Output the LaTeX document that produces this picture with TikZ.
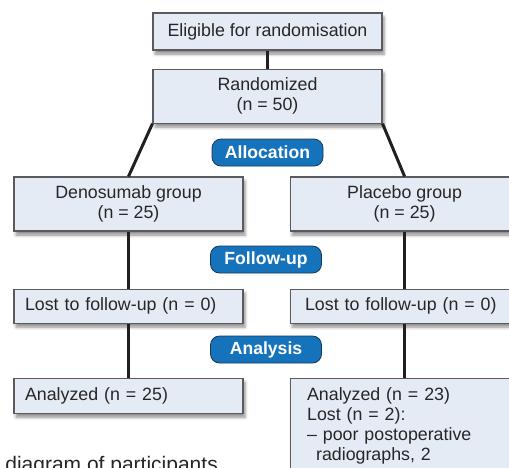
\documentclass[tikz,border=0pt]{standalone}
\usepackage{fontspec}
\setmainfont{Liberation Sans}
\usepackage{tikz}
\usetikzlibrary{positioning,shadows.blur}

\definecolor{boxfill}{RGB}{229,235,245}
\definecolor{boxline}{RGB}{90,90,95}
\definecolor{pillblue}{RGB}{21,115,187}
\definecolor{pillline}{RGB}{25,55,90}
\definecolor{linkline}{RGB}{35,31,32}

\begin{document}
\begin{tikzpicture}[x=1pt, y=1pt,
    main/.style = {draw=boxline, fill=boxfill, line width=1.1pt, minimum width=229pt, minimum height=54pt, align=center, text=black!85,
        font=\fontsize{17.8}{20}\selectfont, blur shadow={shadow xshift=2pt, shadow yshift=-4pt, shadow blur radius=3pt, shadow opacity=45}},
    side/.style = {main, align=left, inner xsep=#1, text width=229pt-2*#1, minimum height=34pt},
    side/.default = 11pt,
    pill/.style = {draw=pillline, fill=pillblue, line width=0.8pt, rounded corners=9pt, minimum width=111pt, minimum height=27pt,
        text=white, font=\fontsize{17.6}{20}\selectfont\bfseries},
    link/.style = {draw=linkline, line width=3pt}]
    \useasboundingbox (0,0) rectangle (509,-467);

    \node[main, minimum height=37pt] (1) at (267.5,-31.5) {Eligible for randomisation};
    \node[main] (2) [below=18pt of 1] {Randomized\\(n = 50)};
    \node[pill] (3) [below=15pt of 2] {Allocation};

    \node[main] (4) at (128.5,-204) {Denosumab group\\(n = 25)};
    \node[main] (5) [right=46pt of 4] {Placebo group\\(n = 25)};
    \node[pill] (6) at (266,-259.5) {Follow-up};

    \node[side] (7) [below=57pt of 4] {Lost to follow-up (n = 0)};
    \node[side=15pt] (8) [below=57pt of 5] {Lost to follow-up (n = 0)};
    \node[pill] (9) at (266,-349.5) {Analysis};

    \node[side, minimum height=35pt] (10) [below=54pt of 7] {Analyzed (n = 25)};
    \node[side=17pt, inner ysep=9pt] (11) [below=54pt of 8] {Analyzed (n = 23)\\Lost (n = 2):\\– poor postoperative\\\hspace*{9pt}radiographs, 2};

    \path[link] (1) edge (2);
    \path[link] (2.south west) edge (4.north);
    \path[link] (2.south east) edge (5.north);
    \path[link] (4) edge (7);
    \path[link] (5) edge (8);
    \path[link] (7) edge (10);
    \path[link] (8) edge (11);

    \node[anchor=base west, text=black!85, font=\fontsize{21}{24}\selectfont, inner sep=0pt] (12) at (-45,-471.5) {Flow diagram of participants};

\end{tikzpicture}
\end{document}
